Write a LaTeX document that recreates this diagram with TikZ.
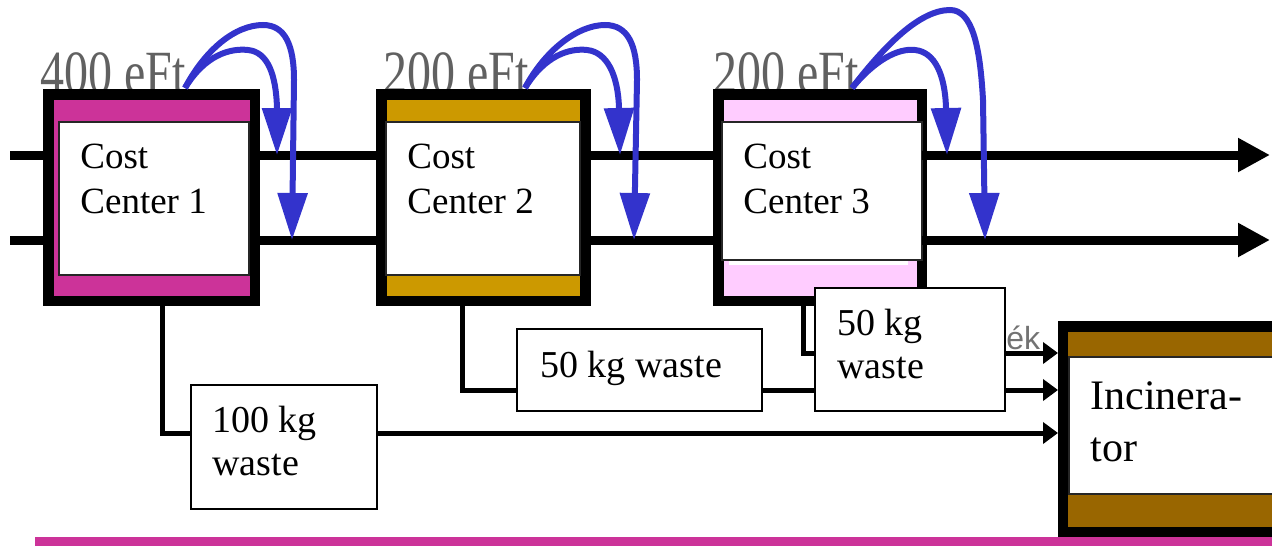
\documentclass[tikz,border=0pt]{standalone}
\usepackage{fontspec}
\setmainfont{Liberation Serif}
\newfontfamily\sansf{Liberation Sans}
\usetikzlibrary{arrows.meta}
\definecolor{ccmag}{HTML}{CC3399}
\definecolor{ccgold}{HTML}{CC9900}
\definecolor{ccpink}{HTML}{FFCCFF}
\definecolor{incbrown}{HTML}{996600}
\definecolor{arrblue}{HTML}{3333CC}
\begin{document}
\begin{tikzpicture}[x=0.5pt,y=-0.5pt,
  frame/.style={draw=black, line width=5.25pt, inner sep=0pt, outer sep=0pt},
  inbox/.style={draw=black!85, fill=white, line width=0.75pt, inner sep=0pt, outer sep=0pt},
  wbox/.style={draw=black, fill=white, line width=1pt, inner sep=0pt, outer sep=0pt},
  lbl/.style={inner sep=0pt, anchor=north west, align=left, font=\fontsize{18.5}{22.5}\selectfont},
  wlbl/.style={inner sep=0pt, anchor=north west, align=left, font=\fontsize{19}{21.5}\selectfont},
  eft/.style={inner sep=0pt, anchor=base west, text=black!62, font=\fontsize{24}{28}\selectfont},
  flow/.style={line width=4.5pt},
  flowarr/.style={flow, -{Triangle[length=16pt,width=16pt]}},
  wline/.style={line width=2.5pt},
  warr/.style={wline, -{Triangle[length=7.5pt,width=10.5pt]}},
  blu/.style={draw=arrblue, line width=3pt, -{Triangle[length=23.5pt,width=14.5pt]}}
]
\clip (0,0) rectangle (1272,546);
\fill[white] (0,0) rectangle (1272,546);

% cost labels (partly hidden by the frames)
\node[eft] (eft1) at (40,93.5) {\scalebox{1}[1.28]{400 eFt}};
\node[eft] (eft2) at (383,93.5) {\scalebox{1}[1.28]{200 eFt}};
\node[eft] (eft3) at (713,93.5) {\scalebox{1}[1.28]{200 eFt}};

% cost centres
\node[frame, fill=ccmag, minimum width=103.25pt, minimum height=103.25pt] (cc1) at (151.5,197.5) {};
\node[frame, fill=ccgold, minimum width=102pt, minimum height=103.25pt] (cc2) at (483.25,197.5) {};
\node[frame, fill=ccpink, minimum width=101.75pt, minimum height=103.25pt] (cc3) at (820,197.5) {};
\node[inbox, minimum width=95pt, minimum height=76.5pt] (cc1in) at (154,198.5) {};
\node[inbox, minimum width=97pt, minimum height=76.5pt] (cc2in) at (483,198.5) {};
\node[inbox, minimum width=100pt, minimum height=69pt] (cc3in) at (822,191) {};
\fill[white] (729,260.6) rectangle (908,265);
\node[lbl] (cc1t) at (80,144) {Cost\\Center 1};
\node[lbl] (cc2t) at (407,144) {Cost\\Center 2};
\node[lbl] (cc3t) at (743,144) {Cost\\Center 3};

% waste boxes
\node[wbox, minimum width=93pt, minimum height=62pt] (w100) at (284,447) {};
\node[wlbl] (w100t) at (212,406) {100 kg\\waste};
\node[wbox, minimum width=122.5pt, minimum height=41pt] (w50a) at (639.5,370) {};
\node[wlbl] (w50at) at (540,351) {50 kg waste};
\node[wbox, minimum width=95pt, minimum height=61.5pt] (w50b) at (910,349.5) {};
\node[wlbl] (w50bt) at (837,309) {50 kg\\waste};

% incinerator
\node[frame, fill=incbrown, minimum width=116pt, minimum height=102.75pt] (inc) at (1179,429) {};
\node[inbox, minimum width=115.5pt, minimum height=68.5pt] (incin) at (1184.5,425.5) {};
\node[lbl, font=\fontsize{21}{26}\selectfont] (inct) at (1090,381) {Incinera-\\tor};

% helper coordinates
\coordinate (inU) at (10,155);
\coordinate (inL) at (10,240);
\coordinate (outU) at (1270,155);
\coordinate (outL) at (1270,240);
\coordinate (r433) at (0,433);
\coordinate (r390) at (0,390);
\coordinate (r353) at (0,353);
\coordinate (x162) at (162,0);
\coordinate (x462) at (462,0);
\coordinate (x803) at (803,0);
\coordinate (incx) at (1058,0);

% main flows
\draw[flow] (inU) -- (inU -| cc1.west);
\draw[flow] (inU -| cc1.east) -- (inU -| cc2.west);
\draw[flow] (inU -| cc2.east) -- (inU -| cc3.west);
\draw[flowarr] (inU -| cc3.east) -- (outU);
\draw[flow] (inL) -- (inL -| cc1.west);
\draw[flow] (inL -| cc1.east) -- (inL -| cc2.west);
\draw[flow] (inL -| cc2.east) -- (inL -| cc3.west);
\draw[flowarr] (inL -| cc3.east) -- (outL);

% waste flows
\draw[wline] (cc1.south -| x162) |- (w100.west |- r433);
\draw[warr] (w100.east |- r433) -- (incx |- r433);
\draw[wline] (cc2.south -| x462) |- (w50a.west |- r390);
\draw[wline] (w50a.east |- r390) -- (w50b.west |- r390);
\draw[warr] (w50b.east |- r390) -- (incx |- r390);
\draw[wline] (cc3.south -| x803) |- (w50b.west |- r353);
\draw[warr] (w50b.east |- r353) -- (incx |- r353);
\node[inner sep=0pt, anchor=base west, text=black!55, font=\sansf\fontsize{16}{19}\selectfont] (ek) at (1006,349) {ék};

% blue allocation arrows
\coordinate (s1) at (185,88);
\coordinate (s2) at (525,88);
\coordinate (s3) at (852,88);
\coordinate (t1a) at (277,155);
\coordinate (t1b) at (292,240);
\coordinate (t2a) at (620,155);
\coordinate (t2b) at (634,240);
\coordinate (t3a) at (947,155);
\coordinate (t3b) at (985,240);
\draw[blu] (s1) .. controls (205,55) and (230,48) .. (248,50) .. controls (268,52) and (276,75) .. (277,108) -- (t1a);
\draw[blu] (s1) .. controls (205,50) and (235,25) .. (263,25) .. controls (285,25) and (294,45) .. (294,80) -- (t1b);
\draw[blu] (s2) .. controls (545,55) and (570,48) .. (587,50) .. controls (607,52) and (618,75) .. (619,108) -- (t2a);
\draw[blu] (s2) .. controls (545,50) and (578,25) .. (605,25) .. controls (628,25) and (637,45) .. (637,80) -- (t2b);
\draw[blu] (s3) .. controls (875,60) and (898,48) .. (915,50) .. controls (935,52) and (945,75) .. (946,108) -- (t3a);
\draw[blu] (s3) .. controls (885,45) and (920,10) .. (950,10) .. controls (972,10) and (980,45) .. (983,100) -- (t3b);

% bottom rule
\fill[ccmag] (35,537) rectangle (1272,546);
\end{tikzpicture}
\end{document}
